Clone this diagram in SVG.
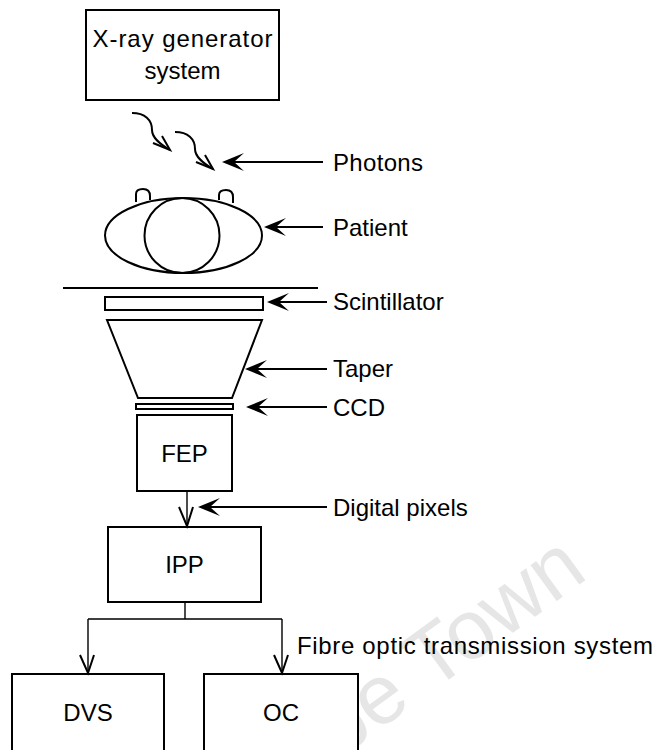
<svg xmlns="http://www.w3.org/2000/svg" width="661" height="750" viewBox="0 0 661 750">
  <style>
    .box { fill: #fff; stroke: #000; stroke-width: 2; }
    .shape { fill: none; stroke: #000; stroke-width: 2; }
    .lbl { font-family: "Liberation Sans", Arial, sans-serif; font-size: 24px; fill: #000; }
    .mid { text-anchor: middle; }
    .wire { fill: none; stroke: #000; stroke-width: 2; }
    .thin { fill: none; stroke: #000; stroke-width: 1.4; }
    .vee { fill: none; stroke: #000; stroke-width: 2; stroke-linejoin: miter; }
    .wm { font-family: "Liberation Sans", Arial, sans-serif; font-size: 84px; fill: #e6e6e6; }
  </style>
  <defs>
    <!-- barbed dart used on the label pointers -->
    <path id="dart" d="M0,0 L22,-9 L12,0 L22,9 Z" fill="#000"/>
  </defs>
  <rect width="661" height="750" fill="#fff"/>

  <!-- faint background watermark -->
  <text class="wm" transform="translate(338,760) rotate(-36)">pe Town</text>

  <g id="xray-generator">
    <rect class="box" x="86" y="10" width="193" height="90"/>
    <text class="lbl mid" x="182.5" y="47" textLength="180" lengthAdjust="spacing">X-ray generator</text>
    <text class="lbl mid" x="182.5" y="79">system</text>
  </g>

  <g id="photons">
    <path class="shape" d="M132,113 C145,113 152,120 152,130 C152,138 160,144 170,150"/>
    <path class="shape" d="M153,143 L170,150 L162,136"/>
    <path class="shape" d="M175,132 C188,132 195,139 195,149 C195,157 203,163 213,169"/>
    <path class="shape" d="M196,162 L213,169 L205,155"/>
  </g>

  <g id="patient">
    <ellipse class="shape" cx="183.5" cy="235.5" rx="78.5" ry="37.5"/>
    <circle class="shape" cx="182" cy="235.5" r="37.5"/>
    <path class="shape" d="M136,202 L136,194 Q136,189 143,189 Q150,189 150,196 L150,200"/>
    <path class="shape" d="M219,200 L219,195 Q219,190 226,190 Q233,190 233,197 L233,203"/>
  </g>

  <g id="table">
    <line class="shape" x1="63" y1="288" x2="318" y2="288"/>
  </g>

  <g id="scintillator">
    <rect class="box" x="105" y="297" width="158" height="13"/>
  </g>

  <g id="taper">
    <path class="box" d="M107,320 L262,320 L232,398 L138,398 Z"/>
  </g>

  <g id="ccd">
    <rect class="box" x="136" y="404" width="97" height="5"/>
  </g>

  <g id="fep">
    <rect class="box" x="137" y="415" width="95" height="76"/>
    <text class="lbl mid" x="184.5" y="462">FEP</text>
  </g>

  <g id="ipp">
    <rect class="box" x="108" y="527" width="153" height="75"/>
    <text class="lbl mid" x="184.5" y="573">IPP</text>
  </g>

  <g id="dvs">
    <rect class="box" x="12" y="674" width="152" height="90"/>
    <text class="lbl mid" x="88" y="721">DVS</text>
  </g>

  <g id="oc">
    <rect class="box" x="204" y="674" width="154" height="90"/>
    <text class="lbl mid" x="281" y="721">OC</text>
  </g>

  <g id="connectors">
    <!-- FEP to IPP -->
    <line class="thin" x1="187" y1="491" x2="187" y2="526"/>
    <path class="vee" d="M179,507 L187,526 L193,507"/>
    <!-- IPP fan-out -->
    <path class="thin" d="M185,602 L185,619 M88,619 L282,619 M88,619 L88,673 M282,619 L282,673"/>
    <path class="vee" d="M80,655 L88,673 L94,655"/>
    <path class="vee" d="M274,655 L282,673 L288,655"/>

    <!-- label pointers -->
    <line class="wire" x1="232" y1="162" x2="323" y2="162"/>
    <use href="#dart" x="222" y="162"/>
    <line class="wire" x1="274" y1="227" x2="323" y2="227"/>
    <use href="#dart" x="264" y="227"/>
    <line class="wire" x1="277" y1="302" x2="327" y2="302"/>
    <use href="#dart" x="267" y="302"/>
    <line class="wire" x1="255" y1="369" x2="327" y2="369"/>
    <use href="#dart" x="245" y="369"/>
    <line class="wire" x1="256" y1="407" x2="327" y2="407"/>
    <use href="#dart" x="246" y="407"/>
    <line class="wire" x1="208" y1="507" x2="327" y2="507"/>
    <use href="#dart" x="198" y="507"/>
  </g>

  <g id="labels">
    <text class="lbl" x="333" y="171" textLength="90" lengthAdjust="spacing">Photons</text>
    <text class="lbl" x="333" y="236">Patient</text>
    <text class="lbl" x="333" y="310">Scintillator</text>
    <text class="lbl" x="333" y="377">Taper</text>
    <text class="lbl" x="333" y="416">CCD</text>
    <text class="lbl" x="333" y="516">Digital pixels</text>
    <text class="lbl" x="297" y="654" textLength="356" lengthAdjust="spacing">Fibre optic transmission system</text>
  </g>
</svg>
